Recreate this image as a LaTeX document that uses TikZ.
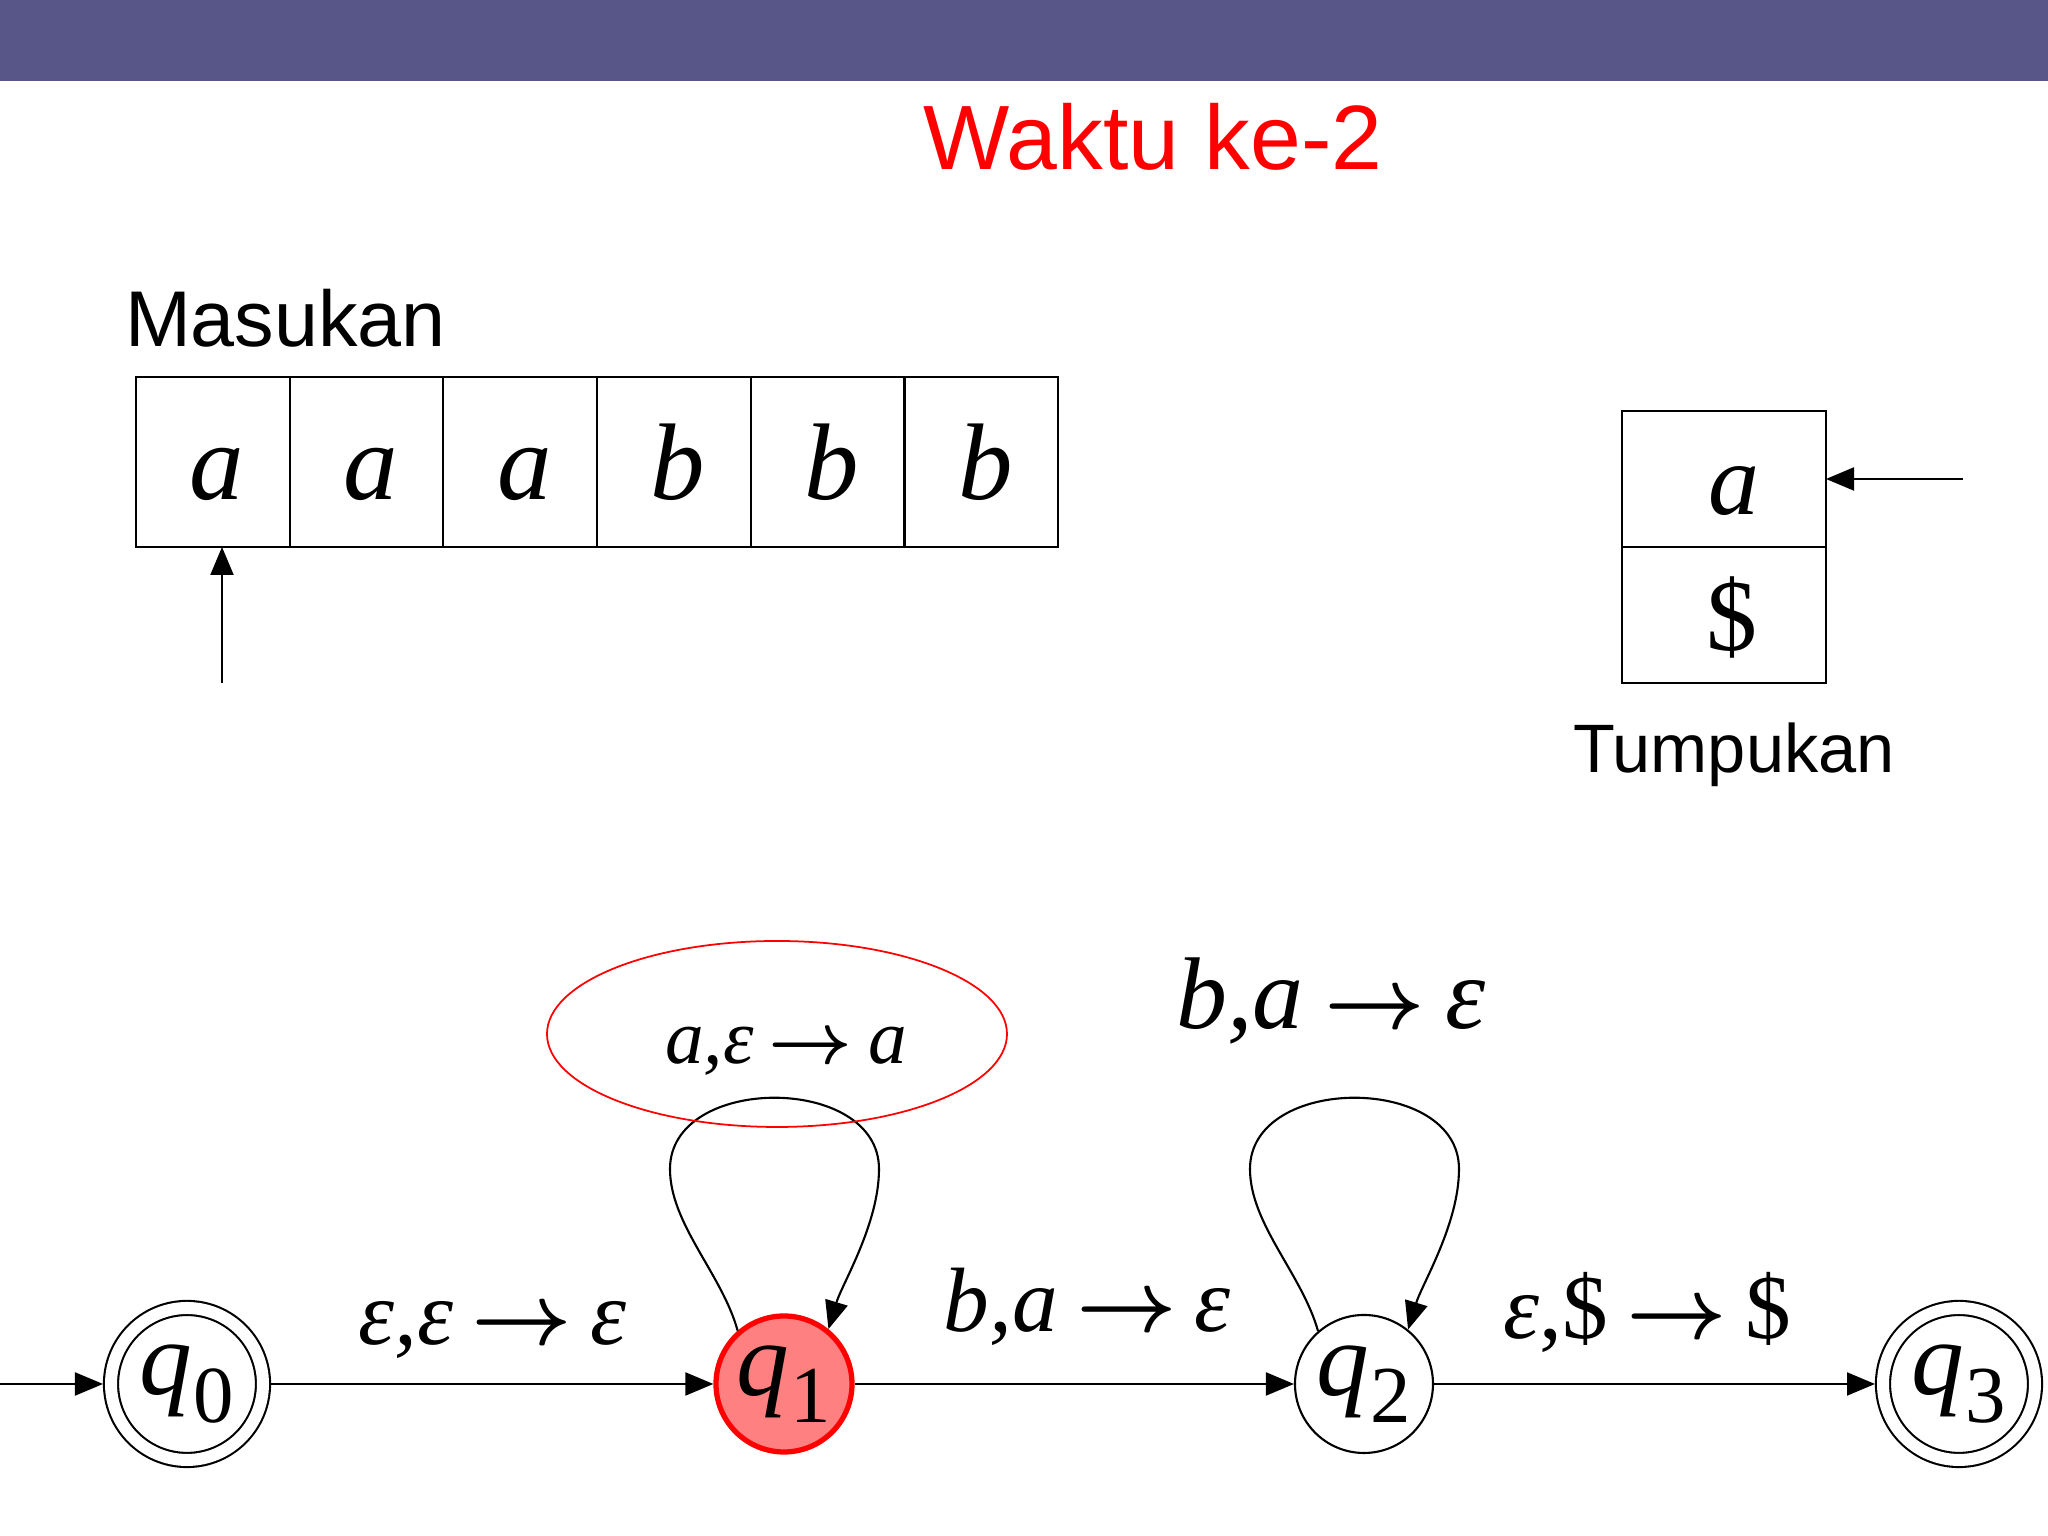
\documentclass[tikz,border=0pt]{standalone}
\usepackage{amsmath}
\usepackage{fontspec}
\setmainfont{Liberation Sans}
\newfontfamily\tms{Liberation Serif}
\usetikzlibrary{arrows.meta,calc,positioning}
\definecolor{bandblue}{RGB}{88,85,137}
\definecolor{activefill}{RGB}{255,128,128}
\def\qsub#1{{\itshape q}\kern0.01em\raisebox{-0.26em}{\fontsize{23}{23}\selectfont #1}}
\def\tra{\upshape\kern0.2em$\boldsymbol{\rightarrow}$\kern0.2em\itshape}
\tikzset{
  arr/.style={-{Triangle[length=0.28cm,width=0.23cm]}},
  cell/.style={draw, minimum width=1.537cm, minimum height=1.70cm, inner sep=0pt, outer sep=0pt,
    text height=0.76cm, text depth=0pt, font=\tms\itshape\fontsize{31}{31}\selectfont},
  stackcell/.style={draw, minimum width=2.04cm, minimum height=1.36cm, inner sep=0pt, outer sep=0pt,
    text height=0.72cm, text depth=0pt, font=\tms\fontsize{29}{29}\selectfont},
  state/.style={circle, draw, minimum size=1.38cm, inner sep=0pt, font=\tms\fontsize{30}{30}\selectfont},
  accept/.style={state, minimum size=1.52cm, double, double distance=0.12cm, outer sep=0.08cm},
  curstate/.style={state, draw=red, fill=activefill, line width=1.5pt, minimum size=1.36cm},
  lbl/.style={anchor=base, inner sep=0pt, font=\tms\fontsize{26}{26}\selectfont},
}

\begin{document}
\begin{tikzpicture}[line width=0.6pt]
			%%%%% START %%%%%
			\useasboundingbox (0,0) rectangle (20.48,15.36);
			\fill[bandblue] (0,14.55) rectangle (20.48,15.36);
			
			\node[anchor=base, inner sep=0pt, text=red, font=\fontsize{26}{26}\selectfont] (title) at (11.53,13.66) {Waktu ke-2};
			
			% masukan (tape)
			\node[anchor=base west, inner sep=0pt, font=\fontsize{22.5}{23}\selectfont] (masukan) at (1.24,11.89) {Masukan};
			\foreach \ch [count=\i] in {a,a,a,b,b,b}
				\node[cell] (c\i) at ({1.36+1.537*\i-0.7685},10.74) {\kern0.08cm\ch};
			\coordinate (headptr) at (2.22,8.53);
			\draw[arr] (headptr) -- (headptr |- c1.south);
			
			% tumpukan (stack)
			\node[stackcell] (s1) at (17.24,10.57) {\kern0.2cm\textit{a}};
			\node[stackcell, below=0pt of s1] (s2) {\kern0.15cm\$};
			\coordinate (topptr) at ($(s1.east)+(1.37,0)$);
			\draw[arr] (topptr) -- (s1.east);
			\node[anchor=base, inner sep=0pt, font=\fontsize{19.5}{20}\selectfont] (tumpukan) at (17.34,7.63) {Tumpukan};
			
			% automaton
			\node[accept] (q0) at (1.87,1.52) {\qsub{0}};
			\node[curstate] (q1) at (7.84,1.52) {\qsub{1}};
			\node[state] (q2) at (13.64,1.52) {\qsub{2}};
			\node[accept] (q3) at (19.59,1.52) {\qsub{3}};
			\coordinate (entry) at (0,1.52);
			
			\draw[arr] (entry) -- (q0);
			\draw[arr] (q0) -- node[lbl, yshift=0.39cm] {\itshape ε,ε\tra ε} (q1);
			\draw[arr] (q1) -- node[lbl, yshift=0.52cm, xshift=0.13cm] {\itshape b,a\tra ε} (q2);
			\draw[arr] (q2) -- node[lbl, yshift=0.45cm, xshift=-0.07cm] {\itshape ε\upshape,\$\tra\upshape\$} (q3);
			
			% self loops
			\foreach \s in {q1,q2}
				\draw[arr] (\s.131) .. controls ($(\s)+(-0.62,1.10)$) and ($(\s)+(-1.14,1.60)$) .. ($(\s)+(-1.14,2.15)$)
					.. controls ($(\s)+(-1.14,3.10)$) and ($(\s)+(0.95,3.10)$) .. ($(\s)+(0.95,2.15)$)
					.. controls ($(\s)+(0.95,1.60)$) and ($(\s)+(0.58,1.00)$) .. (\s.51);
			
			\node[lbl, font=\tms\fontsize{22}{22}\selectfont] (loopa) at ($(q1)+(0.02,3.20)$) {\itshape a,ε\tra a};
			\draw[red, line width=0.5pt] ($(loopa.base)+(-0.09,0.30)$) ellipse (2.30cm and 0.93cm);
			\node[lbl, font=\tms\fontsize{29}{29}\selectfont] (loopb) at ($(q2)+(-0.33,3.55)$) {\itshape b,a\tra ε};
			
			%%%%% END %%%%%
\end{tikzpicture}
\end{document}
